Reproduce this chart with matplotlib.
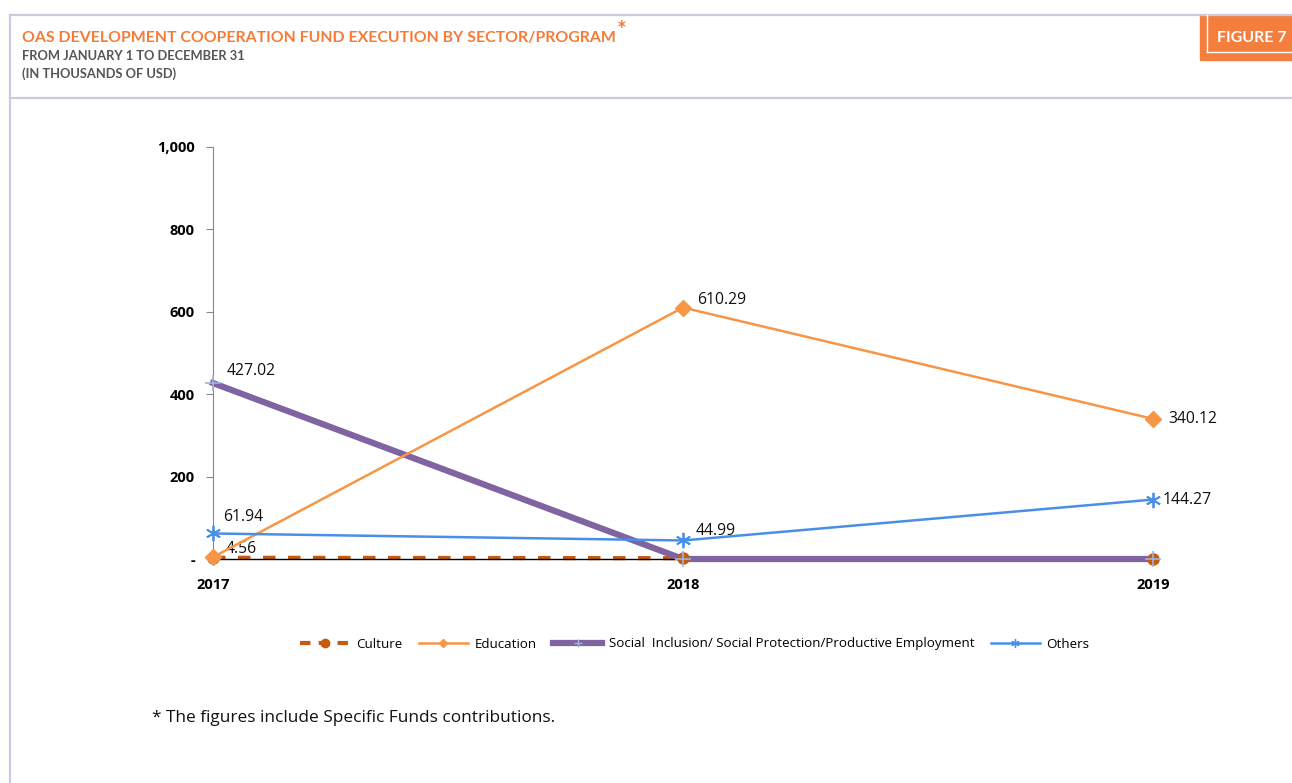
import matplotlib.pyplot as plt
from matplotlib.lines import Line2D

# данные графика
years = [2017, 2018, 2019]
culture = [3.0, 2.0, 0.0]
education = [4.56, 610.29, 340.12]
social = [427.02, 0.0, 0.0]
others = [61.94, 44.99, 144.27]

y_ticks = [0, 200, 400, 600, 800, 1000]
y_tick_labels = ['-', '200', '400', '600', '800', '1,000']

series_names = ['Culture', 'Education',
                'Social  Inclusion/ Social Protection/Productive Employment',
                'Others']

ORANGE = '#F79646'
DARK_ORANGE = '#C55A11'
PURPLE = '#8064A2'
BLUE = '#4A8FE7'
FRAME = '#CACBE3'
TITLE_ORANGE = '#F47B38'
STAR = (6, 2, 0)

fig = plt.figure(figsize=(12.92, 7.83), dpi=100)
W, H = 1292, 783


def px(x, y):
    """Пиксели картинки -> координаты фигуры."""
    return x / W, 1 - y / H


# рамка страницы
for (x0, y0), (x1, y1) in [((10, 15), (W, 15)), ((10, 15), (10, H)),
                           ((10, 98), (W, 98))]:
    a, b = px(x0, y0)
    c, d = px(x1, y1)
    fig.add_artist(Line2D([a, c], [b, d], color=FRAME, lw=1.6))

# плашка FIGURE 7
bx, by = px(1200, 60)
fig.add_artist(plt.Rectangle((bx, by), (W - 1200) / W, 45 / H,
                             color='#F47E3E', transform=fig.transFigure))
for (x0, y0), (x1, y1) in [((1207, 15), (1207, 52)), ((1207, 52), (W, 52))]:
    a, b = px(x0, y0)
    c, d = px(x1, y1)
    fig.add_artist(Line2D([a, c], [b, d], color='white', lw=1.0))
fig.text(*px(1252, 38), 'FIGURE 7', color='white', fontsize=11.5,
         fontweight='bold', family='Lato', ha='center', va='center')

# заголовки
title = fig.text(*px(22, 38),
                 'OAS DEVELOPMENT COOPERATION FUND EXECUTION BY SECTOR/PROGRAM',
                 color=TITLE_ORANGE, fontsize=11.45, fontweight='bold',
                 family='Lato', va='center')
fig.add_artist(plt.Annotation('*', xy=(1, 1), xycoords=title, xytext=(1, 0),
                              textcoords='offset points', color=TITLE_ORANGE,
                              fontsize=16, fontweight='bold', family='Lato',
                              ha='left', va='center'))
fig.text(*px(22, 56), 'FROM JANUARY 1 TO DECEMBER 31', color='#555555',
         fontsize=9.3, fontweight='bold', family='Lato', va='center')
fig.text(*px(22, 74), '(IN THOUSANDS OF USD)', color='#555555',
         fontsize=9.3, fontweight='bold', family='Lato', va='center')

ax = fig.add_axes([213 / W, 1 - 559 / H, (1153 - 213) / W, (559 - 147) / H])

ax.plot(years, culture, color=DARK_ORANGE, lw=3, ls=(0, (3, 3)),
        clip_on=False, zorder=2)
ax.plot(years, education, color=ORANGE, lw=1.8, marker='D', ms=8,
        clip_on=False, zorder=4)
ax.plot(years, social, color=PURPLE, lw=4.5, clip_on=False, zorder=3)
ax.plot(years, culture, ls='none', marker='o', ms=8, color=DARK_ORANGE,
        clip_on=False, zorder=3.5)
ax.plot(years, social, ls='none', marker='+', ms=12, mec='#9DB5E0',
        mew=1.2, clip_on=False, zorder=3.6)
ax.plot(years, others, color=BLUE, lw=1.8, marker=STAR, ms=11,
        mew=1.3, clip_on=False, zorder=5)

# подписи значений
label_font = dict(fontsize=11.3, family='Open Sans', color='#111111')
ax.annotate(f'{social[0]:.2f}', (years[0], social[0]), xytext=(10, 3),
            textcoords='offset points', ha='left', va='bottom', **label_font)
ax.annotate(f'{others[0]:.2f}', (years[0], others[0]), xytext=(7, 6),
            textcoords='offset points', ha='left', va='bottom', **label_font)
ax.annotate(f'{education[0]:.2f}', (years[0], education[0]), xytext=(9, 0),
            textcoords='offset points', ha='left', va='bottom', **label_font)
ax.annotate(f'{education[1]:.2f}', (years[1], education[1]), xytext=(10, 0),
            textcoords='offset points', ha='left', va='bottom', **label_font)
ax.annotate(f'{others[1]:.2f}', (years[1], others[1]), xytext=(9, 1),
            textcoords='offset points', ha='left', va='bottom', **label_font)
ax.annotate(f'{education[2]:.2f}', (years[2], education[2]), xytext=(11, 0),
            textcoords='offset points', ha='left', va='center', **label_font)
ax.annotate(f'{others[2]:.2f}', (years[2], others[2]), xytext=(7, 0),
            textcoords='offset points', ha='left', va='center', **label_font)

ax.set_xlim(2017, 2019)
ax.set_ylim(0, 1000)
ax.set_yticks(y_ticks)
ax.set_yticklabels(y_tick_labels, fontsize=10.5, fontweight='bold',
                   family='Open Sans')
ax.set_xticks(years)
ax.set_xticklabels([str(y) for y in years], fontsize=10.5, fontweight='bold',
                   family='Open Sans')
ax.tick_params(axis='y', length=5, color='#888888', pad=8)
ax.tick_params(axis='x', length=0, pad=14)
for side in ['top', 'right']:
    ax.spines[side].set_visible(False)
ax.spines['left'].set_color('#888888')
ax.spines['bottom'].set_color('black')
ax.spines['bottom'].set_linewidth(1.0)

# легенда
handles = [
    Line2D([], [], color=DARK_ORANGE, lw=3, ls=(0, (2.5, 2)), marker='o', ms=6),
    Line2D([], [], color=ORANGE, lw=1.8, marker='D', ms=4),
    Line2D([], [], color=PURPLE, lw=4.5, marker='+', ms=6, mec='#9DB5E0'),
    Line2D([], [], color=BLUE, lw=1.8, marker=STAR, ms=6),
]
fig.legend(handles, series_names, loc='center', bbox_to_anchor=px(695, 644),
           ncol=4, frameon=False, prop={'family': 'Open Sans', 'size': 9.6},
           handlelength=3.7, columnspacing=1.2, handletextpad=0.5)

fig.text(*px(152, 718), '* The figures include Specific Funds contributions.',
         fontsize=12.4, family='Open Sans', va='center', color='#111111')

fig.savefig('out.png', dpi=100)
